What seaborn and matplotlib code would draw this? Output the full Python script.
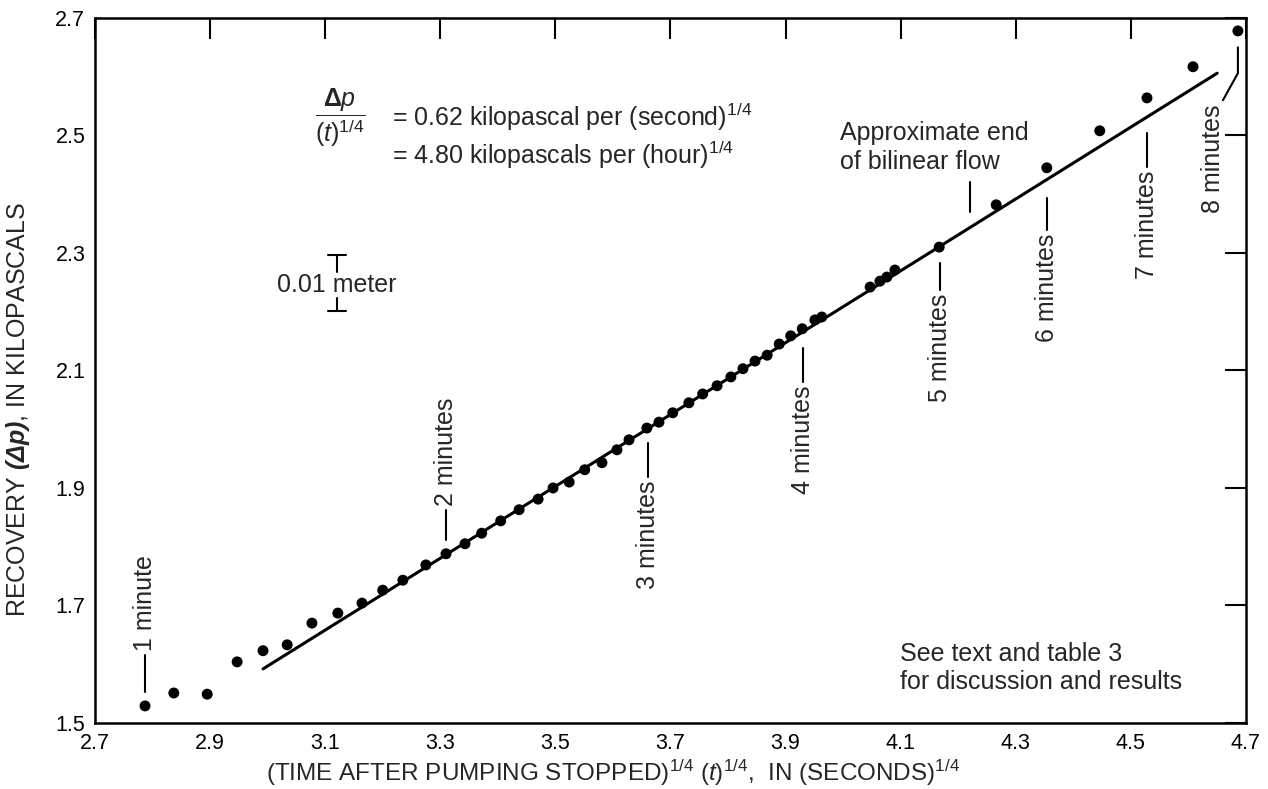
import matplotlib
matplotlib.use("Agg")
import matplotlib.pyplot as plt
import pandas as pd
import seaborn as sns

# (time after pumping stopped)^1/4, in seconds^1/4
root_time = [2.787, 2.837, 2.895, 2.947, 2.992, 3.034, 3.077, 3.122, 3.164, 3.200,
             3.235, 3.275, 3.310, 3.343, 3.372, 3.405, 3.437, 3.470, 3.496, 3.524,
             3.551, 3.581, 3.607, 3.628, 3.659, 3.680, 3.704, 3.732, 3.756, 3.781,
             3.805, 3.826, 3.847, 3.868, 3.889, 3.909, 3.929, 3.951, 3.963, 4.047,
             4.064, 4.076, 4.090, 4.167, 4.266, 4.354, 4.446, 4.528, 4.608, 4.686]
# recovery, kilopascals
recovery = [1.529, 1.551, 1.549, 1.604, 1.623, 1.633, 1.670, 1.687, 1.704, 1.726,
            1.743, 1.769, 1.788, 1.805, 1.823, 1.844, 1.863, 1.881, 1.900, 1.910,
            1.931, 1.943, 1.965, 1.982, 2.002, 2.012, 2.028, 2.045, 2.060, 2.074,
            2.089, 2.103, 2.116, 2.126, 2.145, 2.159, 2.171, 2.186, 2.191, 2.242,
            2.252, 2.259, 2.271, 2.310, 2.382, 2.445, 2.508, 2.564, 2.617, 2.678]

# straight line fitted through the bilinear-flow part
fit_x = [2.992, 4.650]
fit_y = [1.592, 2.606]

# minute marks: label, x, leader dash (low, high), text side of the dash
minute_labels = ["1 minute", "2 minutes", "3 minutes", "4 minutes",
                 "5 minutes", "6 minutes", "7 minutes"]
minute_x = [2.787, 3.310, 3.661, 3.930, 4.168, 4.354, 4.528]
dash_lo = [1.553, 1.812, 1.919, 2.080, 2.237, 2.339, 2.446]
dash_hi = [1.616, 1.863, 1.977, 2.138, 2.283, 2.394, 2.504]
text_side = ["above", "above", "below", "below", "below", "below", "below"]

x_ticks = [2.7, 2.9, 3.1, 3.3, 3.5, 3.7, 3.9, 4.1, 4.3, 4.5, 4.7]
y_ticks = [1.5, 1.7, 1.9, 2.1, 2.3, 2.5, 2.7]

df = pd.DataFrame({"t": root_time, "dp": recovery})

sns.set_theme(style="white")
plt.rcParams["font.family"] = ["Liberation Sans", "DejaVu Sans"]
plt.rcParams["mathtext.fontset"] = "custom"
plt.rcParams["mathtext.rm"] = "Liberation Sans"
plt.rcParams["mathtext.it"] = "Liberation Sans:italic"
plt.rcParams["mathtext.bf"] = "Liberation Sans:bold"
plt.rcParams["mathtext.bfit"] = "Liberation Sans:bold:italic"

fig = plt.figure(figsize=(12.68, 7.89), dpi=100)
ax = fig.add_axes([0.0749, 0.0837, 0.9077, 0.8935])

sns.scatterplot(data=df, x="t", y="dp", color="black", s=62, edgecolor="none", ax=ax, zorder=3)
sns.lineplot(x=fit_x, y=fit_y, color="black", linewidth=2.2, ax=ax)

ax.set_xlim(2.7, 4.7)
ax.set_ylim(1.5, 2.7)
ax.set_xticks(x_ticks)
ax.set_yticks(y_ticks)
ax.set_xticklabels([f"{v:.1f}" for v in x_ticks])
ax.set_yticklabels([f"{v:.1f}" for v in y_ticks])
ax.tick_params(direction="in", length=15, width=1.5, top=True, right=True,
               labelsize=15.5, pad=7, colors="black")
for s in ax.spines.values():
    s.set_color("black")
    s.set_linewidth(1.8)

ax.set_xlabel(r"(TIME AFTER PUMPING STOPPED)$^{1/4}$ $\mathit{(t)}^{1/4}$,  IN (SECONDS)$^{1/4}$",
              fontsize=17.5)
ax.set_ylabel(r"RECOVERY $\mathbfit{(\Delta p)}$, IN KILOPASCALS", fontsize=18)
ax.xaxis.set_label_coords(0.45, -0.05)
ax.yaxis.set_label_coords(-0.055, 0.445)

fs = 18
gap = 0.006
for lab, x, lo, hi, side in zip(minute_labels, minute_x, dash_lo, dash_hi, text_side):
    ax.plot([x, x], [lo, hi], color="black", linewidth=1.5)
    if side == "above":
        ax.text(x, hi + gap, lab, rotation=90, ha="center", va="bottom", fontsize=fs)
    else:
        ax.text(x, lo - gap, lab, rotation=90, ha="center", va="top", fontsize=fs)

# 8 minutes, with its bent leader
ax.plot([4.686, 4.686, 4.660], [2.650, 2.606, 2.560], color="black", linewidth=1.5)
ax.text(4.643, 2.552, "8 minutes", rotation=90, ha="center", va="top", fontsize=fs)

# end of bilinear flow
ax.text(3.995, 2.479, "Approximate end\nof bilinear flow", ha="left", va="center",
        fontsize=fs, linespacing=1.25)
ax.plot([4.220, 4.220], [2.370, 2.421], color="black", linewidth=1.5)

# slope
ax.text(3.126, 2.530, r"$\dfrac{\mathbf{\Delta} \mathit{p}}{\mathit{(t)}^{1/4}}$", ha="center",
        va="center", fontsize=fs)
ax.text(3.216, 2.5315, r"= 0.62 kilopascal per (second)$^{1/4}$", ha="left", va="center", fontsize=fs)
ax.text(3.216, 2.4668, r"= 4.80 kilopascals per (hour)$^{1/4}$", ha="left", va="center", fontsize=fs)

# scale bar
bx = 3.1205
cap = 0.016
ax.plot([bx, bx], [2.2677, 2.2966], color="black", linewidth=1.5)
ax.plot([bx, bx], [2.2013, 2.2234], color="black", linewidth=1.5)
ax.plot([bx - cap, bx + cap], [2.2966, 2.2966], color="black", linewidth=1.5)
ax.plot([bx - cap, bx + cap], [2.2013, 2.2013], color="black", linewidth=1.5)
ax.text(3.016, 2.2455, "0.01 meter", ha="left", va="center", fontsize=fs)

ax.text(4.099, 1.5936, "See text and table 3\nfor discussion and results", ha="left",
        va="center", fontsize=fs, linespacing=1.25)

fig.savefig("out.png", dpi=100)
plt.close(fig)
